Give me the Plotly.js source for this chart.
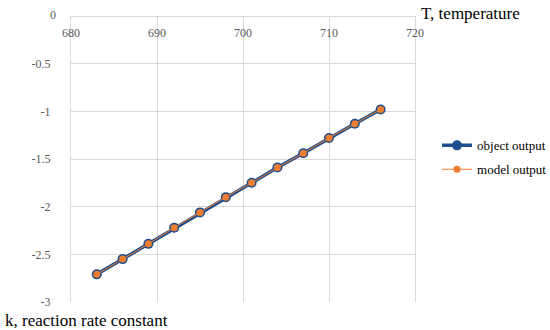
<!DOCTYPE html>
<html>
<head>
<meta charset="utf-8">
<script src="https://cdn.plot.ly/plotly-3.0.1.min.js"></script>
<style>
html,body{margin:0;padding:0;background:#fff;}
#chart{width:550px;height:330px;}
</style>
</head>
<body>
<div id="chart"></div>
<script>
// Data
const temperature = [683, 686, 689, 692, 695, 698, 701, 704, 707, 710, 713, 716];
const objectOutput = [-2.71, -2.55, -2.39, -2.22, -2.06, -1.90, -1.75, -1.59, -1.44, -1.28, -1.13, -0.98];
const modelOutput  = [-2.71, -2.55, -2.39, -2.22, -2.06, -1.90, -1.75, -1.59, -1.44, -1.28, -1.13, -0.98];
const xTickVals = [680, 690, 700, 710, 720];
const xTickText = ['680', '690', '700', '710', '720'];
const yTickVals = [0, -0.5, -1, -1.5, -2, -2.5, -3];
const yTickText = ['0', '-0.5', '-1', '-1.5', '-2', '-2.5', '-3'];
const seriesNames = ['object output', 'model output'];
const xTitle = 'T, temperature';
const yTitle = 'k, reaction rate constant';

const serif = '"Liberation Serif", "Times New Roman", serif';
const grid = '#D9D9D9';

const traces = [
  {
    x: temperature, y: objectOutput, name: seriesNames[0], type: 'scatter', mode: 'lines+markers',
    line: {color: '#1F4E8C', width: 3.5}, marker: {color: '#1F4E8C', size: 10},
    legendgroup: 'a'
  },
  {
    x: temperature, y: modelOutput, name: seriesNames[1], type: 'scatter', mode: 'lines+markers',
    line: {color: '#ED7D31', width: 1}, marker: {color: '#ED7D31', size: 7},
    legendgroup: 'b'
  }
];

// y tick labels: the top "0" is drawn separately (slightly offset in the original)
const yTickTextAxis = yTickText.map((t, i) => yTickVals[i] === 0 ? '' : t);

const layout = {
  width: 550, height: 330,
  margin: {l: 71, r: 135, t: 16, b: 28, autoexpand: false},
  paper_bgcolor: '#fff', plot_bgcolor: '#fff',
  font: {family: serif, size: 12, color: '#595959'},
  showlegend: true,
  legend: {
    x: 1.064, xanchor: 'left', y: 0.6, yanchor: 'top',
    font: {family: serif, size: 13, color: '#000'},
    tracegroupgap: 4, bgcolor: 'rgba(0,0,0,0)'
  },
  xaxis: {
    range: [680, 720], tickvals: xTickVals, ticktext: xTickText,
    anchor: 'free', position: 1, side: 'bottom',
    showgrid: true, gridcolor: grid, gridwidth: 1,
    showline: true, linecolor: grid, linewidth: 1, mirror: true,
    zeroline: false, ticks: 'outside', ticklen: 6, tickcolor: 'rgba(0,0,0,0)',
    tickfont: {family: serif, size: 12, color: '#595959'}
  },
  yaxis: {
    range: [-3, 0], tickvals: yTickVals, ticktext: yTickTextAxis,
    showgrid: true, gridcolor: grid, gridwidth: 1,
    showline: true, linecolor: grid, linewidth: 1, mirror: true,
    zeroline: false, ticks: 'outside', ticklen: 17, tickcolor: 'rgba(0,0,0,0)',
    tickfont: {family: serif, size: 12, color: '#595959'}
  },
  annotations: [
    {text: xTitle, xref: 'paper', yref: 'paper', x: 1, y: 1, xanchor: 'left', yanchor: 'middle',
     xshift: 4, yshift: 3, showarrow: false, font: {family: serif, size: 17, color: '#000'}},
    {text: yTitle, xref: 'paper', yref: 'paper', x: -0.197, y: 0, xanchor: 'left', yanchor: 'middle',
     yshift: -18, showarrow: false, font: {family: serif, size: 17, color: '#000'}},
    {text: yTickText[0], xref: 'paper', yref: 'y', x: 0, y: yTickVals[0], xanchor: 'right', yanchor: 'middle',
     xshift: -13, yshift: 1, showarrow: false, font: {family: serif, size: 12, color: '#595959'}}
  ]
};

Plotly.newPlot('chart', traces, layout, {displayModeBar: false, staticPlot: true});
</script>
</body>
</html>
